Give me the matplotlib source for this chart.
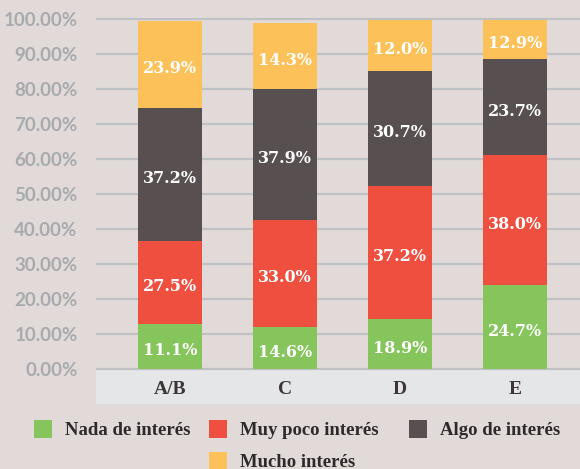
import matplotlib
matplotlib.use('Agg')
import matplotlib.pyplot as plt
from matplotlib.patches import Rectangle
import numpy as np

categories = ['A/B', 'C', 'D', 'E']
series = ['Nada de interés', 'Muy poco interés', 'Algo de interés', 'Mucho interés']
colors = ['#85C55B', '#EF4F3F', '#574F50', '#FDC15A']

# segment heights as drawn in the picture (per series, per category)
nada_heights = [12.9, 12.0, 14.3, 23.9]
muy_poco_heights = [23.7, 30.7, 37.9, 37.2]
algo_heights = [38.0, 37.2, 33.0, 27.5]
mucho_heights = [24.7, 18.9, 14.6, 11.1]

# values printed on the segments
nada_labels = [11.1, 14.6, 18.9, 24.7]
muy_poco_labels = [27.5, 33.0, 37.2, 38.0]
algo_labels = [37.2, 37.9, 30.7, 23.7]
mucho_labels = [23.9, 14.3, 12.0, 12.9]

yticks = [0, 10, 20, 30, 40, 50, 60, 70, 80, 90, 100]

heights = [nada_heights, muy_poco_heights, algo_heights, mucho_heights]
labels = [nada_labels, muy_poco_labels, algo_labels, mucho_labels]

W, H = 580, 469
BG = '#E1DAD9'
slab = dict(family='Liberation Serif', fontweight='bold')
lab = dict(family='DejaVu Serif', fontweight='bold')

fig = plt.figure(figsize=(W / 100, H / 100), dpi=100)
fig.patch.set_facecolor(BG)

# category band
fig.patches.append(Rectangle((96 / W, 1 - 404 / H), (W - 96) / W, 35 / H,
                             transform=fig.transFigure, facecolor='#E5E6E8',
                             edgecolor='none', zorder=-1))

ax = fig.add_axes([97 / W, 1 - 369 / H, (W - 97) / W, 350 / H])
ax.set_facecolor('none')
ax.set_ylim(0, 100)
ax.set_xlim(-0.635, 3.565)
for s in ax.spines.values():
    s.set_visible(False)

for t in yticks:
    ax.axhline(t, color='#C0C1C4', lw=1.6, zorder=1, clip_on=False)

x = np.arange(len(categories))
bottom = np.zeros(len(categories))
for hs, ls, c in zip(heights, labels, colors):
    hs = np.array(hs)
    ax.bar(x, hs, bottom=bottom, width=0.557, color=c, zorder=2)
    for xi, b, h, v in zip(x, bottom, hs, ls):
        ax.annotate(f'{v:.1f}%', (xi, b + h / 2), xytext=(0, -3),
                    textcoords='offset points', ha='center', va='center',
                    color='white', fontsize=11.5, zorder=3, **lab)
    bottom += hs

ax.set_yticks(yticks)
ax.set_yticklabels([f'{t:.2f}%' for t in yticks], color='#A8AAAD',
                   fontsize=13.5, fontweight='bold', family='Lato')
ax.tick_params(axis='y', length=0, pad=14)
ax.set_xticks(x)
ax.set_xticklabels(categories, color='#3A3536', fontsize=14, **slab)
ax.tick_params(axis='x', length=0, pad=9)

# legend (manual, centred rows)
legend_items = [(34, 429, 0), (209, 429, 1), (409, 429, 2), (209, 461, 3)]
for px, py, i in legend_items:
    fig.patches.append(Rectangle((px / W, 1 - (py + 9) / H), 18 / W, 18 / H,
                                 transform=fig.transFigure, facecolor=colors[i],
                                 edgecolor='none'))
    fig.text((px + 31) / W, 1 - (py + 1) / H, series[i], ha='left', va='center',
             color='#2E2A2B', fontsize=13.5, **slab)

fig.savefig('out.png', dpi=100, facecolor=BG)
